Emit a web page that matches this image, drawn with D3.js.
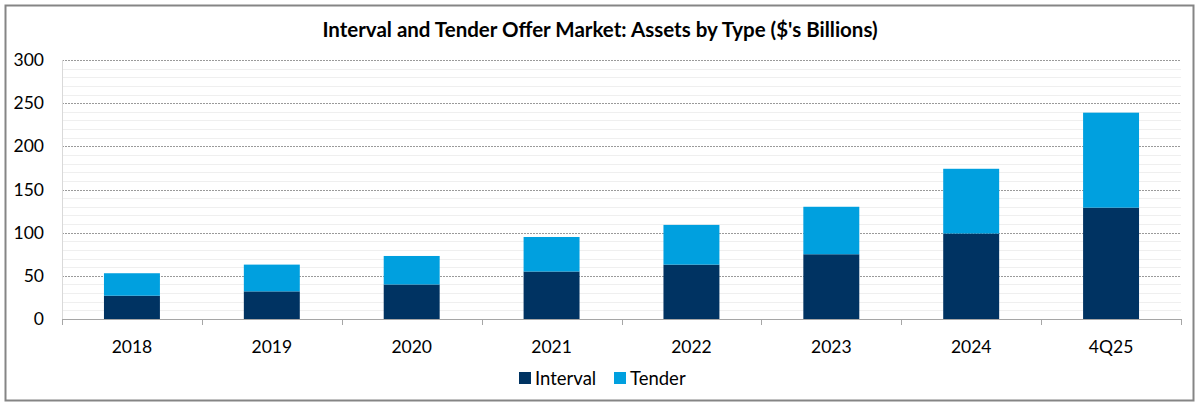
<!DOCTYPE html>
<html>
<head>
<meta charset="utf-8">
<script src="https://cdn.jsdelivr.net/npm/d3@7"></script>
<style>
  body { margin: 0; background: #fff; }
  svg { display: block; }
</style>
</head>
<body>
<div id="chart"></div>
<script>
// chart data
var categories = ["2018", "2019", "2020", "2021", "2022", "2023", "2024", "4Q25"];
var intervalValues = [27, 32, 40, 55, 63, 75, 99, 129];
var tenderValues = [26, 31, 33, 40, 46, 55, 75, 110];
var seriesNames = ["Interval", "Tender"];
var yTicks = [0, 50, 100, 150, 200, 250, 300];

var W = 1200, H = 407;
var margin = {top: 60, right: 19, bottom: 88, left: 62};
var width = W - margin.left - margin.right;
var height = H - margin.top - margin.bottom;
var colors = {"Interval": "#003362", "Tender": "#00a0df"};
var font = "Lato, 'Open Sans', sans-serif";

var root = d3.select("#chart").append("svg")
    .attr("width", W)
    .attr("height", H);

// outer frame
root.append("rect")
    .attr("x", 5.5).attr("y", 5.5)
    .attr("width", W - 12).attr("height", H - 12)
    .attr("fill", "#fff")
    .attr("stroke", "#858585")
    .attr("stroke-width", 2);

root.append("text")
    .attr("x", 600)
    .attr("y", 37)
    .attr("text-anchor", "middle")
    .attr("font-family", font)
    .attr("font-weight", "bold")
    .attr("font-size", "20.5px")
    .attr("fill", "#000")
    .text("Interval and Tender Offer Market: Assets by Type ($'s Billions)");

var svg = root.append("g")
    .attr("transform", "translate(" + margin.left + "," + margin.top + ")");

var x = d3.scaleBand().domain(categories).range([0, width]).paddingInner(0.6).paddingOuter(0.3);
var xb = d3.scaleBand().domain(categories).range([0, width]);
var y = d3.scaleLinear().domain([0, 300]).range([height, 0]);

// minor gridlines every 10
svg.append("g")
  .selectAll("line")
  .data(d3.range(10, 300, 10).filter(function(v) { return v % 50 !== 0; }))
  .enter().append("line")
    .attr("x1", 0).attr("x2", width)
    .attr("y1", function(d) { return Math.round(y(d)) + 0.5; })
    .attr("y2", function(d) { return Math.round(y(d)) + 0.5; })
    .attr("stroke", "#efefef")
    .attr("stroke-width", 1);

// major gridlines
svg.append("g")
  .selectAll("line")
  .data(yTicks.slice(1))
  .enter().append("line")
    .attr("x1", 0).attr("x2", width)
    .attr("y1", function(d) { return Math.round(y(d)) + 0.5; })
    .attr("y2", function(d) { return Math.round(y(d)) + 0.5; })
    .attr("stroke", "#9a9a9a")
    .attr("stroke-width", 1)
    .attr("stroke-dasharray", "2,1");

// left axis line (faint)
svg.append("line")
    .attr("x1", 0.5).attr("x2", 0.5)
    .attr("y1", 0).attr("y2", height)
    .attr("stroke", "#d9d9d9");

// stacked bars
var rows = categories.map(function(c, i) {
  return {cat: c, Interval: intervalValues[i], Tender: tenderValues[i]};
});
var stack = d3.stack().keys(seriesNames)(rows);

svg.selectAll("g.series")
  .data(stack)
  .enter().append("g")
    .attr("class", "series")
    .attr("fill", function(d) { return colors[d.key]; })
  .selectAll("rect")
  .data(function(d) { return d; })
  .enter().append("rect")
    .attr("x", function(d) { return x(d.data.cat); })
    .attr("width", x.bandwidth())
    .attr("y", function(d) { return y(d[1]); })
    .attr("height", function(d) { return y(d[0]) - y(d[1]); });

// y axis labels
var yAxis = svg.append("g")
    .call(d3.axisLeft(y).tickValues(yTicks).tickSize(0).tickPadding(18));
yAxis.select(".domain").remove();
yAxis.selectAll("text")
    .attr("font-family", font)
    .attr("font-size", "17.5px")
    .attr("fill", "#000");

// x axis with ticks at band boundaries
svg.append("line")
    .attr("x1", 0).attr("x2", width)
    .attr("y1", height + 0.5).attr("y2", height + 0.5)
    .attr("stroke", "#a6a6a6");
svg.append("g")
  .selectAll("line")
  .data(categories.concat(["end"]))
  .enter().append("line")
    .attr("x1", function(d, i) { return Math.round(i < categories.length ? xb(d) : width) + 0.5; })
    .attr("x2", function(d, i) { return Math.round(i < categories.length ? xb(d) : width) + 0.5; })
    .attr("y1", height).attr("y2", height + 6)
    .attr("stroke", "#a6a6a6");

svg.append("g")
  .selectAll("text")
  .data(categories)
  .enter().append("text")
    .attr("x", function(d) { return xb(d) + xb.bandwidth() / 2; })
    .attr("y", height + 34)
    .attr("text-anchor", "middle")
    .attr("font-family", font)
    .attr("font-size", "17.5px")
    .attr("fill", "#000")
    .text(function(d) { return d; });

// legend
var legendX = [519, 614];
var legend = root.append("g");
seriesNames.forEach(function(name, i) {
  legend.append("rect")
      .attr("x", legendX[i]).attr("y", 372)
      .attr("width", 12).attr("height", 12)
      .attr("fill", colors[name]);
  legend.append("text")
      .attr("x", legendX[i] + 16).attr("y", 384.5)
      .attr("font-family", font)
      .attr("font-size", "18.5px")
      .attr("fill", "#000")
      .text(name);
});
</script>
</body>
</html>
